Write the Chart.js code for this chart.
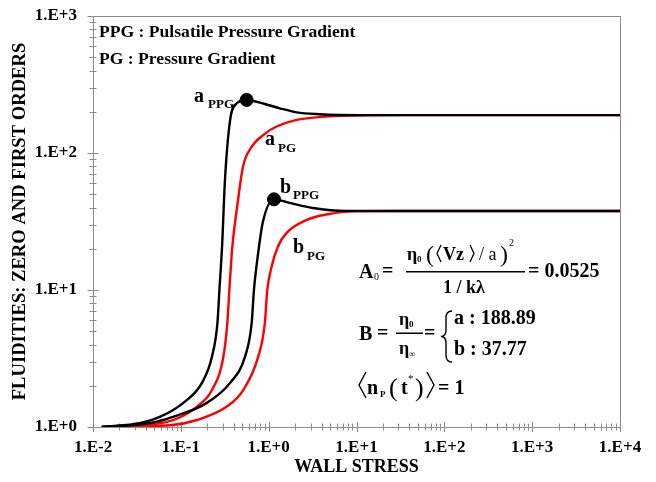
<!DOCTYPE html>
<html>
<head>
<meta charset="utf-8">
<script src="https://cdn.jsdelivr.net/npm/chart.js@4.4.1/dist/chart.umd.min.js"></script>
<style>
  body { margin: 0; background: #fff; }
  #wrap { width: 656px; height: 482px; }
</style>
</head>
<body>
<div id="wrap"><canvas id="chart" width="656" height="482"></canvas></div>
<script>
// Axis decades + labels
const xDecades = [0.01, 0.1, 1, 10, 100, 1000, 10000];
const xTickLabels = ['1.E-2', '1.E-1', '1.E+0', '1.E+1', '1.E+2', '1.E+3', '1.E+4'];
const yDecades = [1, 10, 100, 1000];
const yTickLabels = ['1.E+0', '1.E+1', '1.E+2', '1.E+3'];

// Curves (wall stress, fluidity)
const aPPG_x = [0.0126, 0.035, 0.0586, 0.107, 0.174, 0.226, 0.261, 0.275, 0.295, 0.318, 0.364, 0.425, 0.561, 0.904, 1.34, 2.08, 3.78, 10.8, 100, 1000, 10000];
const aPPG_y = [1.0, 1.07, 1.19, 1.50, 2.10, 3.26, 5.74, 10, 21, 63.5, 174, 228, 244, 228, 212, 198, 192, 189, 188.89, 188.89, 188.89];

const aPG_x = [0.0126, 0.035, 0.0829, 0.153, 0.226, 0.305, 0.338, 0.357, 0.383, 0.448, 0.51, 0.64, 0.904, 1.23, 1.98, 3.78, 10.8, 30, 100, 1000, 10000];
const aPG_y = [1.0, 1.025, 1.125, 1.41, 1.86, 3.26, 5.71, 10, 19.6, 45.4, 79.4, 111, 138, 156, 173, 183, 188, 188.89, 188.89, 188.89, 188.89];

const bPPG_x = [0.0126, 0.0452, 0.0829, 0.198, 0.364, 0.538, 0.64, 0.68, 0.754, 0.859, 1.15, 1.74, 3.17, 7.65, 100, 1000, 10000];
const bPPG_y = [1.0, 1.07, 1.19, 1.50, 2.10, 3.26, 5.71, 10, 18.0, 31.4, 45.9, 43.2, 39.7, 37.8, 37.77, 37.77, 37.77];

const bPG_x = [0.0126, 0.0761, 0.153, 0.334, 0.514, 0.76, 0.904, 0.964, 1.08, 1.27, 1.6, 2.68, 4.9, 9.9, 30, 100, 1000, 10000];
const bPG_y = [1.0, 1.03, 1.125, 1.41, 1.86, 3.26, 5.71, 10, 14.8, 20.7, 26.1, 32.4, 35.9, 37.5, 37.77, 37.77, 37.77, 37.77];

// PPG maxima (the black dots)
const peak_x = [0.561, 1.15];
const peak_y = [244, 45.9];

const serif = '"Liberation Serif", "Times New Roman", "DejaVu Serif", serif';
const pts = (xs, ys) => xs.map((x, i) => ({ x, y: ys[i] }));

function tickValues(decades) {
  const out = [];
  for (let i = 0; i < decades.length - 1; i++) {
    for (let k = 1; k <= 9; k++) out.push(Number((decades[i] * k).toPrecision(6)));
  }
  out.push(decades[decades.length - 1]);
  return out;
}
const isDecade = v => Math.abs(Math.log10(v) - Math.round(Math.log10(v))) < 1e-6;
function labelFor(decades, labels, v) {
  const i = decades.findIndex(d => Math.abs(d - v) / d < 1e-6);
  return i >= 0 ? labels[i] : '';
}

// frame + crossing tick marks
const axisDecor = {
  id: 'axisDecor',
  beforeDatasetsDraw(chart) {
    const { ctx, chartArea: a, scales: { x, y } } = chart;
    ctx.save();
    ctx.strokeStyle = '#8c8c8c';
    ctx.lineWidth = 1;
    ctx.strokeRect(a.left + 0.5, a.top + 0.5, a.right - a.left, a.bottom - a.top);
    ctx.beginPath();
    x.ticks.forEach(t => {
      const px = Math.round(x.getPixelForValue(t.value)) + 0.5;
      const len = isDecade(t.value) ? 5 : 3.5;
      ctx.moveTo(px, a.bottom - len);
      ctx.lineTo(px, a.bottom + len);
    });
    y.ticks.forEach(t => {
      const py = Math.round(y.getPixelForValue(t.value)) + 0.5;
      const len = isDecade(t.value) ? 5.5 : 3.5;
      ctx.moveTo(a.left - len, py);
      ctx.lineTo(a.left + len, py);
    });
    ctx.stroke();
    ctx.restore();
  }
};

function txt(ctx, s, x, y, size, weight) {
  ctx.font = (weight || 'bold') + ' ' + size + 'px ' + serif;
  ctx.fillText(s, x, y);
}
function line(ctx, pts, w) {
  ctx.beginPath();
  ctx.moveTo(pts[0][0], pts[0][1]);
  for (let i = 1; i < pts.length; i++) ctx.lineTo(pts[i][0], pts[i][1]);
  ctx.lineWidth = w || 1.4;
  ctx.stroke();
}

// texts inside the plot
const notes = {
  id: 'notes',
  afterDraw(chart) {
    const ctx = chart.ctx;
    ctx.save();
    ctx.fillStyle = '#000';
    ctx.strokeStyle = '#000';
    ctx.textBaseline = 'alphabetic';
    ctx.textAlign = 'left';

    txt(ctx, 'PPG : Pulsatile Pressure Gradient', 99, 37, 17.6);
    txt(ctx, 'PG : Pressure Gradient', 99, 64, 17.6);

    // curve labels
    txt(ctx, 'a', 194, 102, 20); txt(ctx, 'PPG', 208, 108, 13);
    txt(ctx, 'a', 265, 145, 20); txt(ctx, 'PG', 278, 152, 13);
    txt(ctx, 'b', 280, 193, 20); txt(ctx, 'PPG', 293, 199, 13);
    txt(ctx, 'b', 293, 253, 20); txt(ctx, 'PG', 307, 260, 13);

    // A0 = ...
    txt(ctx, 'A', 359, 278, 20); txt(ctx, '0', 374, 280, 10, 'normal');
    txt(ctx, '=', 382, 277, 20);
    txt(ctx, 'η', 407, 260, 18); txt(ctx, '0', 417, 262, 9);
    txt(ctx, '(', 426, 262, 24, 'normal');
    line(ctx, [[441, 245], [437, 253.5], [441, 262]], 1.3);
    txt(ctx, 'Vz', 443, 260, 18);
    line(ctx, [[470, 245], [474, 253.5], [470, 262]], 1.3);
    txt(ctx, '/ a', 479, 260, 18, 'normal');
    txt(ctx, ')', 500, 262, 24, 'normal');
    txt(ctx, '2', 509, 246, 10, 'normal');
    ctx.fillRect(406, 271, 119, 1.5);
    txt(ctx, '1 / kλ', 443, 293, 18);
    txt(ctx, '= 0.0525', 528, 277, 20);

    // B = ...
    txt(ctx, 'B', 359, 340, 20);
    txt(ctx, '=', 377, 339, 20);
    txt(ctx, 'η', 399, 325, 18); txt(ctx, '0', 409, 327, 9);
    ctx.fillRect(396, 332.5, 27, 1.5);
    txt(ctx, 'η', 399, 354, 18); txt(ctx, '∞', 409, 357, 9, 'normal');
    txt(ctx, '=', 424, 339, 20);
    // brace
    ctx.beginPath();
    ctx.lineWidth = 1.4;
    ctx.moveTo(452, 311);
    ctx.quadraticCurveTo(446, 311, 446, 318);
    ctx.lineTo(446, 330);
    ctx.quadraticCurveTo(446, 336.5, 441, 336.5);
    ctx.quadraticCurveTo(446, 336.5, 446, 343);
    ctx.lineTo(446, 355);
    ctx.quadraticCurveTo(446, 362, 452, 362);
    ctx.stroke();
    txt(ctx, 'a : 188.89', 454, 324, 20);
    txt(ctx, 'b : 37.77', 454, 355, 20);

    // <nP(t*)> = 1
    line(ctx, [[366, 372], [359, 385], [366, 398]], 1.4);
    txt(ctx, 'n', 367, 394, 20); txt(ctx, 'P', 380, 397, 9);
    txt(ctx, '(', 389, 396, 26, 'normal');
    txt(ctx, 't', 401, 394, 20); txt(ctx, '*', 408, 382, 11, 'normal');
    txt(ctx, ')', 415, 396, 26, 'normal');
    line(ctx, [[427, 372], [434, 385], [427, 398]], 1.4);
    txt(ctx, '= 1', 438, 394, 20);

    ctx.restore();
  }
};

const tickFont = { family: serif, size: 17, weight: 'bold' };

new Chart(document.getElementById('chart'), {
  type: 'scatter',
  data: {
    datasets: [
      { data: pts(peak_x, peak_y), pointRadius: 6.5, pointBackgroundColor: '#000', pointBorderColor: '#000', showLine: false },
      { data: pts(aPPG_x, aPPG_y), borderColor: '#000', borderWidth: 2.4, pointRadius: 0, showLine: true, cubicInterpolationMode: 'monotone' },
      { data: pts(bPPG_x, bPPG_y), borderColor: '#000', borderWidth: 2.4, pointRadius: 0, showLine: true, cubicInterpolationMode: 'monotone' },
      { data: pts(aPG_x, aPG_y), borderColor: '#ff0000', borderWidth: 2.4, pointRadius: 0, showLine: true, cubicInterpolationMode: 'monotone' },
      { data: pts(bPG_x, bPG_y), borderColor: '#ff0000', borderWidth: 2.4, pointRadius: 0, showLine: true, cubicInterpolationMode: 'monotone' }
    ]
  },
  options: {
    responsive: false,
    animation: false,
    layout: { padding: { top: 16, right: 36, left: 0, bottom: 0 } },
    plugins: { legend: { display: false }, tooltip: { enabled: false } },
    scales: {
      x: {
        type: 'logarithmic',
        min: 0.01, max: 10000,
        grid: { display: false, drawTicks: false },
        border: { display: false },
        afterBuildTicks: s => { s.ticks = tickValues(xDecades).map(v => ({ value: v })); },
        afterFit: s => { s.height = 55; },
        ticks: {
          autoSkip: false, maxRotation: 0, minRotation: 0, padding: 10,
          color: '#000', font: tickFont,
          callback: v => labelFor(xDecades, xTickLabels, v)
        },
        title: { display: true, text: 'WALL STRESS', color: '#000', font: { family: serif, size: 18, weight: 'bold' }, padding: { top: 0, bottom: 4 } }
      },
      y: {
        type: 'logarithmic',
        min: 1, max: 1000,
        grid: { display: false, drawTicks: false },
        border: { display: false },
        afterBuildTicks: s => { s.ticks = tickValues(yDecades).map(v => ({ value: v })); },
        afterFit: s => { s.width = 93; s.paddingTop = 0; s.paddingBottom = 0; },
        ticks: {
          autoSkip: false, padding: 16,
          color: '#000', font: tickFont,
          callback: v => labelFor(yDecades, yTickLabels, v)
        },
        title: { display: true, text: 'FLUIDITIES: ZERO AND FIRST ORDERS', color: '#000', font: { family: serif, size: 18.6, weight: 'bold' }, padding: { top: 9, bottom: 0 } }
      }
    }
  },
  plugins: [axisDecor, notes]
});
</script>
</body>
</html>
